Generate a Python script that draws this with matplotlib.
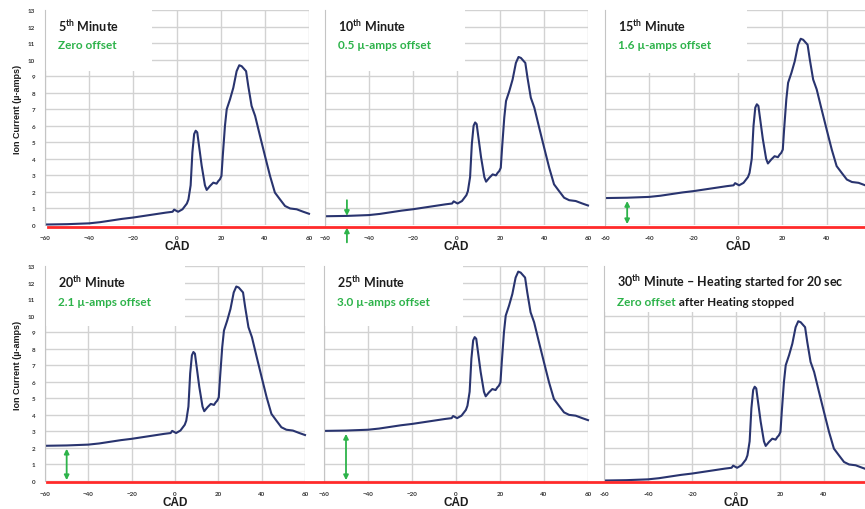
import matplotlib.pyplot as plt
from matplotlib.lines import Line2D
from matplotlib.patches import Rectangle

plt.rcParams['font.family'] = ['Lato', 'DejaVu Sans']
plt.rcParams['mathtext.fontset'] = 'custom'
plt.rcParams['mathtext.rm'] = 'Lato:bold'
plt.rcParams['mathtext.it'] = 'Lato:bold'
plt.rcParams['mathtext.bf'] = 'Lato:bold'

# ion current trace at the 5th minute (zero offset)
cad = [-59.5, -50, -40, -35, -30, -25, -20, -15, -10, -5, -2, -1.3, 0.5,
       2.5, 4.5, 5.2, 6.2, 7.0, 7.8, 8.5, 9.2, 10.2, 11.2, 12.7, 13.5, 15,
       16.5, 18, 18.8, 19.5, 20.2, 20.8, 21.8, 22.6, 24.1, 25.6, 27.1, 28.3,
       29.4, 31.4, 32.4, 33.9, 35.5, 37.7, 40, 42.3, 44.5, 46.8, 49.1, 51.4,
       54.4, 57.4, 60]
ion_5min = [0.03, 0.05, 0.10, 0.17, 0.27, 0.37, 0.45, 0.55, 0.65, 0.75,
            0.80, 0.93, 0.80, 0.95, 1.30, 1.55, 2.40, 4.40, 5.50, 5.70, 5.60,
            4.60, 3.60, 2.40, 2.12, 2.36, 2.56, 2.50, 2.66, 2.76, 2.96, 4.17,
            6.00, 7.00, 7.60, 8.30, 9.30, 9.66, 9.60, 9.30, 8.40, 7.20, 6.60,
            5.40, 4.17, 2.96, 1.96, 1.55, 1.15, 1.00, 0.95, 0.80, 0.68]

minutes = ['5', '10', '15', '20', '25', '30']
offsets = [0.0, 0.5, 1.6, 2.1, 3.0, 0.0]
offset_text = ['Zero offset', '0.5 µ-amps offset', '1.6 µ-amps offset',
               '2.1 µ-amps offset', '3.0 µ-amps offset', 'Zero offset']
x_ticks = [-60, -40, -20, 0, 20, 40, 60]
y_ticks = list(range(14))

W, H = 865, 510
# panel boxes in pixels: left, top, right, bottom
boxes = [(45, 11, 309, 226), (325, 11, 588, 226), (605, 11, 871, 226),
         (45, 267, 305, 482), (324, 267, 588, 482), (604, 267, 868, 482)]
# white label area: right edge (CAD) and lower edge (µ-amps)
label_area = [(-11.5, 9.3), (4, 9.3), (4, 9.2), (4.5, 9.4), (3, 9.4), (62, 10.2)]

navy = '#29346f'
green = '#2db34a'
grid_c = '#d2d2d2'
dark = '#1c1c1c'

fig = plt.figure(figsize=(W / 100, H / 100), dpi=100)

for i in range(6):
    l, t, r, b = boxes[i]
    ax = fig.add_axes([l / W, 1 - b / H, (r - l) / W, (b - t) / H])
    ax.set_xlim(-60, 60)
    ax.set_ylim(0, 13)
    ax.set_xticks(x_ticks)
    ax.set_yticks(y_ticks)
    ax.grid(True, color=grid_c, lw=1.0, zorder=0)
    ax.set_axisbelow(True)
    for s in ['top', 'right', 'bottom']:
        ax.spines[s].set_visible(False)
    ax.spines['left'].set_color('#c4c4c4')
    ax.spines['left'].set_zorder(4)
    ax.tick_params(length=0, labelsize=4.5, labelcolor='#333333', pad=7)
    for lab in ax.get_xticklabels() + ax.get_yticklabels():
        lab.set_fontweight('bold')
    if i % 3 == 2:
        # right-hand panels run past the figure edge
        ax.set_xticklabels([str(v) if v < 60 else '' for v in x_ticks])
    if i % 3 != 0:
        ax.set_yticklabels([])
    else:
        ax.text(-27 / (r - l), 0.54, 'Ion Current (µ-amps)', transform=ax.transAxes,
                rotation=90, ha='center', va='center', fontsize=6.5,
                fontweight='bold', family=['Liberation Sans', 'DejaVu Sans'], color=dark)

    xr, yb = label_area[i]
    ax.add_patch(Rectangle((-60, yb), xr + 60, 13.5 - yb, facecolor='white',
                           edgecolor='none', zorder=1, clip_on=False))

    ion = [v + offsets[i] for v in ion_5min]
    ax.plot(cad, ion, color=navy, lw=1.5, zorder=3, clip_on=False)

    ax.text(0.5, -21 / (b - t), 'CAD', transform=ax.transAxes, ha='center',
            va='center', fontsize=8.5, fontweight='bold',
            family=['Liberation Sans', 'DejaVu Sans'], color=dark)

    tx = 13 / (r - l)
    title = minutes[i] + r'$^{\rm th}$ Minute'
    if i == 5:
        title += ' – Heating started for 20 sec'
    ax.text(tx, 1 - 15 / (b - t), title, transform=ax.transAxes, ha='left',
            va='center', fontsize=9, fontweight='bold', color=dark, zorder=5)
    sub = ax.text(tx, 1 - 35 / (b - t), offset_text[i], transform=ax.transAxes,
                  ha='left', va='center', fontsize=8.5, fontweight='bold',
                  color=green, zorder=5)
    if i == 5:
        ax.annotate(' after Heating stopped', xy=(1, 0.5), xycoords=sub,
                    ha='left', va='center', fontsize=8.5, fontweight='bold',
                    color=dark, zorder=5)

    # offset markers
    arrow = dict(color=green, lw=1.3, mutation_scale=7, shrinkA=0, shrinkB=0)
    if i == 1:
        ax.annotate('', xy=(-50, offsets[i] + 0.05), xytext=(-50, 1.5),
                    arrowprops=dict(arrowstyle='-|>', **arrow), annotation_clip=False)
        ax.annotate('', xy=(-50, -0.15), xytext=(-50, -1.05),
                    arrowprops=dict(arrowstyle='-|>', **arrow), annotation_clip=False)
    elif i in (2, 3, 4):
        ax.annotate('', xy=(-50, offsets[i] - 0.15), xytext=(-50, 0.05),
                    arrowprops=dict(arrowstyle='<|-|>', **arrow), annotation_clip=False)

# red zero lines across each row
for y_px, x0 in [(228, 48), (483, 47)]:
    fig.add_artist(Line2D([x0 / W, 1], [1 - y_px / H] * 2, transform=fig.transFigure,
                          color='#ff2a2a', lw=2.0, zorder=10))

fig.savefig('out.png', dpi=100, facecolor='white')
